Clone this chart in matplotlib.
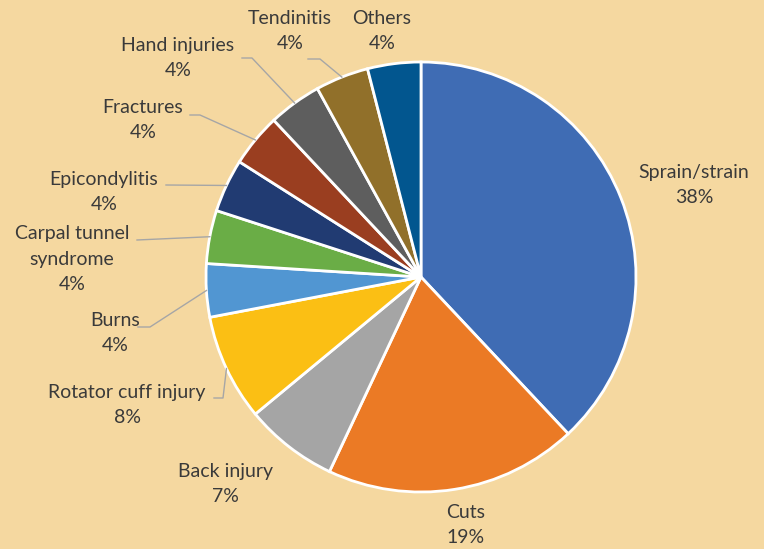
import numpy as np
import matplotlib.pyplot as plt

categories = ["Sprain/strain", "Cuts", "Back injury", "Rotator cuff injury", "Burns",
              "Carpal tunnel\nsyndrome", "Epicondylitis", "Fractures", "Hand injuries",
              "Tendinitis", "Others"]
values = [38, 19, 7, 8, 4, 4, 4, 4, 4, 4, 4]
colors = ["#3F6CB4", "#EB7A25", "#A5A5A5", "#FBBF14", "#5196D2", "#6AAD46",
          "#213B72", "#9A3E20", "#5E5E5E", "#91702A", "#02568F"]

BG = "#F5D8A0"
TXT = "#3A3A3A"
W, H = 764, 549
CX, CY, R = 421, 277, 215

# label block centres (pixels) and leader line start/elbow (pixels, None = no leader)
label_pos = [(694, 185), (466, 525), (225, 484), (127, 405), (115, 333),
             (72, 259), (104, 192), (143, 120), (178, 58), (290, 31), (382, 31)]
leaders = [None, None, None,
           [(214, 398), (223, 398)],
           [(138, 327), (150, 327)],
           [(137, 240)],
           [(166, 185)],
           [(190, 115), (200, 115)],
           [(242, 58), (252, 58)],
           [(308, 59), (320, 59)],
           None]


def px(x, y):
    return (x - CX) / R, (CY - y) / R


plt.rcParams['font.family'] = ['Lato', 'DejaVu Sans']
fig = plt.figure(figsize=(W / 100, H / 100), dpi=100, facecolor=BG)
ax = fig.add_axes([0, 0, 1, 1])
ax.set_facecolor(BG)

wedges, _ = ax.pie(values, colors=colors, startangle=90, counterclock=False,
                   radius=1, center=(0, 0),
                   wedgeprops=dict(edgecolor="white", linewidth=2))

total = sum(values)
for i, w in enumerate(wedges):
    lx, ly = px(*label_pos[i])
    ax.text(lx, ly, f"{categories[i]}\n{round(values[i] / total * 100)}%",
            ha="center", va="center", fontsize=14, color=TXT, linespacing=1.63)
    if leaders[i] is not None:
        mid = np.deg2rad((w.theta1 + w.theta2) / 2)
        pts = [px(*p) for p in leaders[i]] + [(np.cos(mid), np.sin(mid))]
        xs, ys = zip(*pts)
        ax.plot(xs, ys, color="#A6A6A6", lw=1)

ax.set_xlim(-CX / R, (W - CX) / R)
ax.set_ylim(-(H - CY) / R, CY / R)
ax.set_aspect("equal")
ax.axis("off")

plt.savefig("out.png", dpi=100, facecolor=BG)
